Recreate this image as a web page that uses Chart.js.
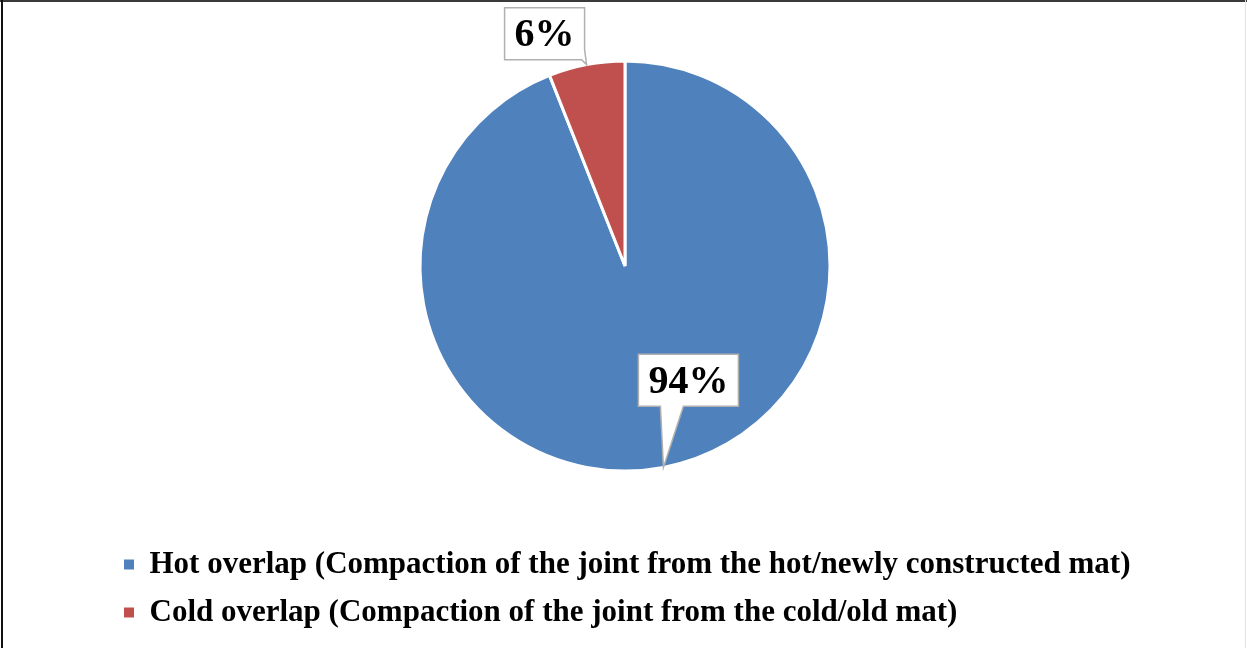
<!DOCTYPE html>
<html>
<head>
<meta charset="utf-8">
<title>Joint compaction method</title>
<script src="https://cdn.jsdelivr.net/npm/chart.js@4.4.1/dist/chart.umd.min.js"></script>
<style>
  html, body { margin: 0; padding: 0; background: #fff; }
  #wrap { position: relative; width: 1247px; height: 648px; }
</style>
</head>
<body>
<div id="wrap"><canvas id="pieChart"></canvas></div>
<script>
// Share of longitudinal joints by compaction method
const categories = [
  'Hot overlap (Compaction of the joint from the hot/newly constructed mat)',
  'Cold overlap (Compaction of the joint from the cold/old mat)'
];
const shares = [94, 6];
const sliceColors = ['#4f81bd', '#c0504d'];

// callout box offset from the point it points at, and where the pointer
// leaves the box (distance from the bottom-right corner, clockwise)
const calloutOffsets = [
  { dx: 25, dy: -87, base: [55, 78] },
  { dx: -42, dy: -31, base: [-10, 3] }
];

const serif = '"Liberation Serif", "Times New Roman", serif';

const calloutPlugin = {
  id: 'callouts',
  afterDatasetsDraw(chart) {
    const ctx = chart.ctx;
    const meta = chart.getDatasetMeta(0);
    const data = chart.data.datasets[0].data;
    const total = data.reduce((a, b) => a + b, 0);
    ctx.save();
    ctx.font = 'bold 40px ' + serif;
    meta.data.forEach((arc, i) => {
      const p = arc.getProps(['x', 'y', 'startAngle', 'endAngle', 'outerRadius'], true);
      const mid = (p.startAngle + p.endAngle) / 2;
      const tipX = p.x + Math.cos(mid) * p.outerRadius;
      const tipY = p.y + Math.sin(mid) * p.outerRadius;
      const text = Math.round(data[i] / total * 100) + '%';
      const w = ctx.measureText(text).width + 20;
      const h = 52;
      const off = calloutOffsets[i];
      const left = tipX + off.dx - w / 2;
      const top = tipY + off.dy - h / 2;
      const right = left + w, bottom = top + h;

      // point on the box outline, s measured clockwise from the top-left corner
      const along = s => {
        if (s <= w) return [left + s, top];
        if (s <= w + h) return [right, top + (s - w)];
        if (s <= 2 * w + h) return [right - (s - w - h), bottom];
        return [left, bottom - (s - 2 * w - h)];
      };
      const s1 = w + h + off.base[0];
      const s2 = w + h + off.base[1];
      const corners = [[0, left, top], [w, right, top], [w + h, right, bottom], [2 * w + h, left, bottom]];

      ctx.beginPath();
      ctx.moveTo(left, top);
      corners.forEach(c => { if (c[0] > 0 && c[0] < s1) ctx.lineTo(c[1], c[2]); });
      ctx.lineTo(...along(s1));
      ctx.lineTo(tipX, tipY);
      ctx.lineTo(...along(s2));
      corners.forEach(c => { if (c[0] > s2) ctx.lineTo(c[1], c[2]); });
      ctx.closePath();
      ctx.fillStyle = '#fff';
      ctx.fill();
      ctx.lineWidth = 1.5;
      ctx.strokeStyle = '#b0b0b0';
      ctx.stroke();

      ctx.fillStyle = '#000';
      ctx.textAlign = 'center';
      ctx.textBaseline = 'middle';
      ctx.fillText(text, left + w / 2, top + h / 2 + 2);
    });
    ctx.restore();
  }
};

// white page with the frame lines along the edges
const framePlugin = {
  id: 'frame',
  beforeDraw(chart) {
    const ctx = chart.ctx;
    ctx.save();
    ctx.fillStyle = '#fff';
    ctx.fillRect(0, 0, chart.width, chart.height);
    ctx.restore();
  },
  afterDraw(chart) {
    const ctx = chart.ctx;
    ctx.save();
    ctx.fillStyle = '#3a3a3a';
    ctx.fillRect(0, 0, chart.width, 2);
    ctx.fillStyle = '#111';
    ctx.fillRect(1, 0, 2, chart.height);
    ctx.fillStyle = '#e2e2e2';
    ctx.fillRect(chart.width - 2, 0, 1, chart.height);
    ctx.restore();
  }
};

new Chart(document.getElementById('pieChart'), {
  type: 'pie',
  data: {
    labels: categories,
    datasets: [{
      data: shares,
      backgroundColor: sliceColors,
      borderColor: '#fff',
      borderWidth: 3,
      radius: 205
    }]
  },
  options: {
    responsive: true,
    maintainAspectRatio: false,
    animation: false,
    layout: { padding: { top: 0, left: 107, right: 104, bottom: 10 } },
    plugins: {
      tooltip: { enabled: false },
      legend: {
        position: 'bottom',
        align: 'start',
        labels: {
          boxWidth: 10,
          boxHeight: 10,
          padding: 17,
          color: '#000',
          font: { family: serif, size: 31, weight: 'bold' },
          generateLabels(chart) {
            const items = Chart.overrides.pie.plugins.legend.labels.generateLabels(chart);
            items.forEach(it => { it.lineWidth = 0; });
            return items;
          }
        }
      }
    }
  },
  plugins: [framePlugin, calloutPlugin]
});
</script>
</body>
</html>
